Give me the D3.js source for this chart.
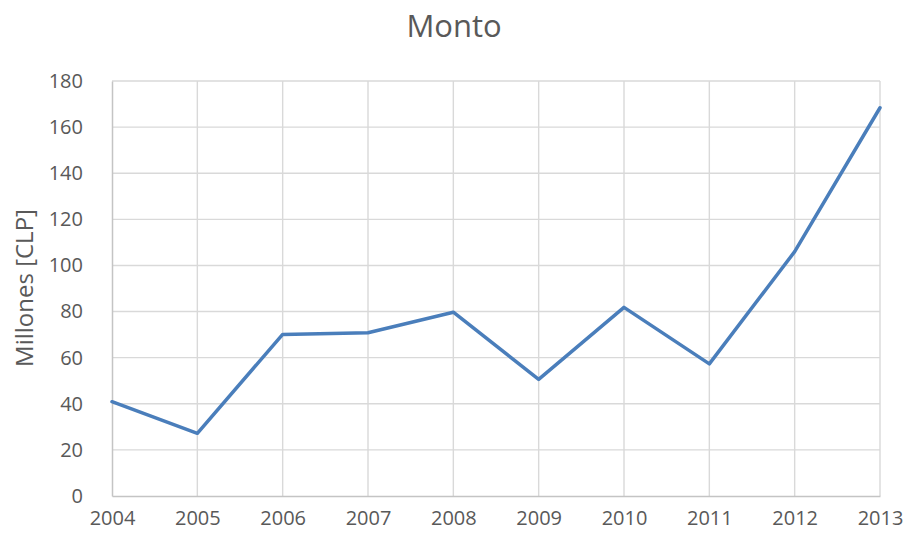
<!DOCTYPE html>
<html>
<head>
<meta charset="utf-8">
<script src="https://cdn.jsdelivr.net/npm/d3@7"></script>
<style>
  html, body { margin: 0; padding: 0; background: #fff; }
  svg { display: block; }
  text { font-family: "Open Sans", "Liberation Sans", sans-serif; fill: #595959; }
</style>
</head>
<body>
<script>
// Yearly amounts, in millions of CLP
const years = ["2004", "2005", "2006", "2007", "2008", "2009", "2010", "2011", "2012", "2013"];
const montos = [40.9, 27.2, 70.1, 70.8, 79.7, 50.6, 81.8, 57.3, 106.0, 168.4];
const yTicks = [0, 20, 40, 60, 80, 100, 120, 140, 160, 180];
const chartTitle = "Monto";
const yTitle = "Millones [CLP]";

const W = 906, H = 537;
const margin = { left: 112, right: 26, top: 81, bottom: 41 };

const svg = d3.select("body").append("svg").attr("width", W).attr("height", H);

const x = d3.scalePoint().domain(years).range([margin.left, W - margin.right]);
const y = d3.scaleLinear().domain([0, 180]).range([H - margin.bottom, margin.top]);

// Horizontal gridlines
svg.append("g")
  .selectAll("line")
  .data(yTicks.filter(d => d > 0))
  .join("line")
  .attr("x1", margin.left).attr("x2", W - margin.right)
  .attr("y1", d => y(d)).attr("y2", d => y(d))
  .attr("stroke", "#d9d9d9").attr("stroke-width", 1.4);

// Vertical gridlines at each year
svg.append("g")
  .selectAll("line")
  .data(years.slice(1))
  .join("line")
  .attr("x1", d => x(d)).attr("x2", d => x(d))
  .attr("y1", y(0)).attr("y2", y(180))
  .attr("stroke", "#d9d9d9").attr("stroke-width", 1.4);

// Axes
const yAxis = svg.append("g")
  .attr("transform", `translate(${margin.left},0)`)
  .call(d3.axisLeft(y).tickValues(yTicks).tickSize(0).tickPadding(29));
yAxis.select(".domain").attr("stroke", "#c4c4c4").attr("stroke-width", 1.5);
yAxis.selectAll("text").style("font-size", "20px").attr("fill", "#595959");

const xAxis = svg.append("g")
  .attr("transform", `translate(0,${y(0)})`)
  .call(d3.axisBottom(x).tickSize(0).tickPadding(15));
xAxis.select(".domain").attr("stroke", "#c4c4c4").attr("stroke-width", 1.5);
xAxis.selectAll("text").style("font-size", "20px").attr("fill", "#595959");

// Series line
const line = d3.line()
  .x((d, i) => x(years[i]))
  .y(d => y(d));

svg.append("path")
  .datum(montos)
  .attr("d", line)
  .attr("fill", "none")
  .attr("stroke", "#4a7ebb")
  .attr("stroke-width", 3.5)
  .attr("stroke-linejoin", "round")
  .attr("stroke-linecap", "round");

// Titles
svg.append("text")
  .attr("x", 454).attr("y", 37)
  .attr("text-anchor", "middle")
  .style("font-size", "31px")
  .text(chartTitle);

svg.append("text")
  .attr("transform", `translate(33,288) rotate(-90)`)
  .attr("text-anchor", "middle")
  .style("font-size", "24px")
  .text(yTitle);
</script>
</body>
</html>
